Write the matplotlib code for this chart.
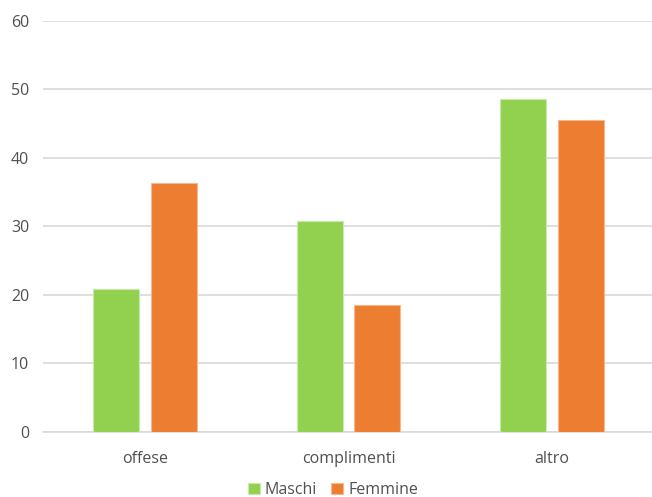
import numpy as np
import matplotlib.pyplot as plt

categories = ['offese', 'complimenti', 'altro']
maschi = [20.9, 30.8, 48.6]
femmine = [36.3, 18.5, 45.5]
yticks = [0, 10, 20, 30, 40, 50, 60]

green = '#92D050'
orange = '#ED7D31'
text_col = '#505050'

plt.rcParams['font.family'] = ['Open Sans', 'DejaVu Sans']

fig = plt.figure(figsize=(6.52, 4.97), dpi=100)
ax = fig.add_axes([43 / 652, 0.1314, 611 / 652, 0.8269])

x = np.arange(len(categories))
w = 0.226
off = 0.142
ax.bar(x - off, maschi, w, color=green, edgecolor='#C8EBA8', linewidth=0.8,
       label='Maschi', zorder=3)
ax.bar(x + off, femmine, w, color=orange, edgecolor='#F5B890', linewidth=0.8,
       label='Femmine', zorder=3)

ax.set_xlim(-0.5, len(categories) - 0.5)
ax.set_ylim(0, 60)
ax.set_yticks(yticks)
ax.set_xticks(x)
ax.set_xticklabels(categories)
ax.yaxis.grid(True, color='#D9D9D9', linewidth=1.2, zorder=0)
ax.tick_params(axis='both', length=0, colors=text_col, labelsize=11.5)
ax.tick_params(axis='y', pad=10)
ax.tick_params(axis='x', pad=14)
for s in ['top', 'right', 'left']:
    ax.spines[s].set_visible(False)
ax.spines['bottom'].set_color('#D9D9D9')
ax.spines['bottom'].set_linewidth(1.2)

fig.legend(loc='center', bbox_to_anchor=(333 / 652, 7 / 497), ncol=2,
           frameon=False, handlelength=0.75, handleheight=0.75,
           handletextpad=0.3, columnspacing=0.9, labelcolor=text_col,
           fontsize=11.5)

fig.savefig('out.png', dpi=100)
